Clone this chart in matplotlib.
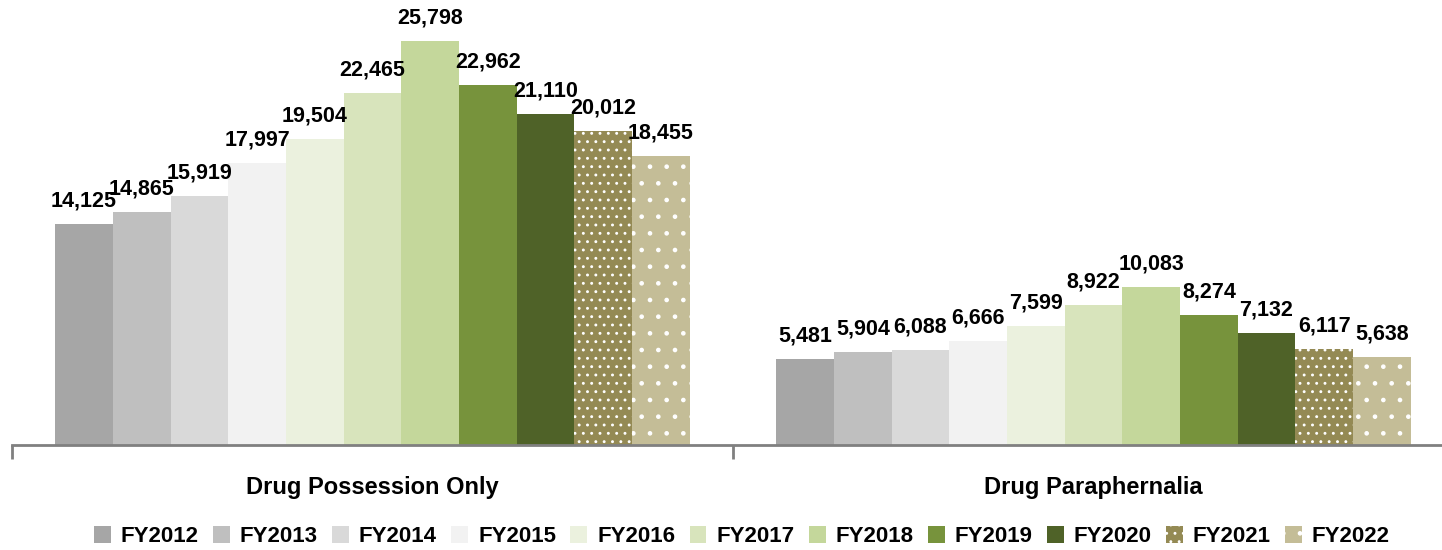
import numpy as np
import matplotlib.pyplot as plt

categories = ["Drug Possession Only", "Drug Paraphernalia"]
years = ["FY2012", "FY2013", "FY2014", "FY2015", "FY2016", "FY2017",
         "FY2018", "FY2019", "FY2020", "FY2021", "FY2022"]
possession = [14125, 14865, 15919, 17997, 19504, 22465, 25798, 22962, 21110, 20012, 18455]
paraphernalia = [5481, 5904, 6088, 6666, 7599, 8922, 10083, 8274, 7132, 6117, 5638]

colors = ["#A6A6A6", "#BFBFBF", "#D9D9D9", "#F2F2F2", "#EBF1DE", "#D8E4BC",
          "#C4D79B", "#77933C", "#4F6228", "#948A54", "#C4BD97"]
hatches = [None] * 9 + ["..", "."]

plt.rcParams['font.family'] = ['Liberation Sans', 'DejaVu Sans']
plt.rcParams['hatch.color'] = 'white'
plt.rcParams['hatch.linewidth'] = 0.9

fig = plt.figure(figsize=(14.42, 5.5), dpi=100)
# axis runs a little past the right edge, as in the original
ax = fig.add_axes([12 / 1442, 105 / 550, 1442 / 1442, 445 / 550])

x = np.arange(len(categories))
w = 0.08
for i, yr in enumerate(years):
    vals = [possession[i], paraphernalia[i]]
    bars = ax.bar(x + (i - 5) * w, vals, w, color=colors[i], label=yr,
                  hatch=hatches[i], edgecolor='white', linewidth=0)
    for b, v in zip(bars, vals):
        ax.text(b.get_x() + b.get_width() / 2, v + 800, f"{v:,}",
                ha='center', va='bottom', fontsize=15.5, fontweight='bold')

ax.set_xlim(-0.5, 1.5)
ax.set_ylim(0, 28400)
ax.set_yticks([])
for s in ['top', 'right', 'left']:
    ax.spines[s].set_visible(False)
ax.spines['bottom'].set_color('#808080')
ax.spines['bottom'].set_linewidth(2)

ax.set_xticks(x)
ax.set_xticklabels(categories, fontsize=17, fontweight='bold')
ax.tick_params(axis='x', which='major', length=0, pad=22)
ax.set_xticks([-0.5, 0.5, 1.5], minor=True)
ax.tick_params(axis='x', which='minor', length=10, width=2, color='#808080')

ax.legend(loc='center', bbox_to_anchor=(730 / 1442, -0.206), ncol=11,
          frameon=False, prop={'size': 16, 'weight': 'bold'},
          handlelength=0.75, handleheight=0.75, handletextpad=0.45,
          columnspacing=0.65, borderpad=0)

fig.savefig("out.png", dpi=100)
